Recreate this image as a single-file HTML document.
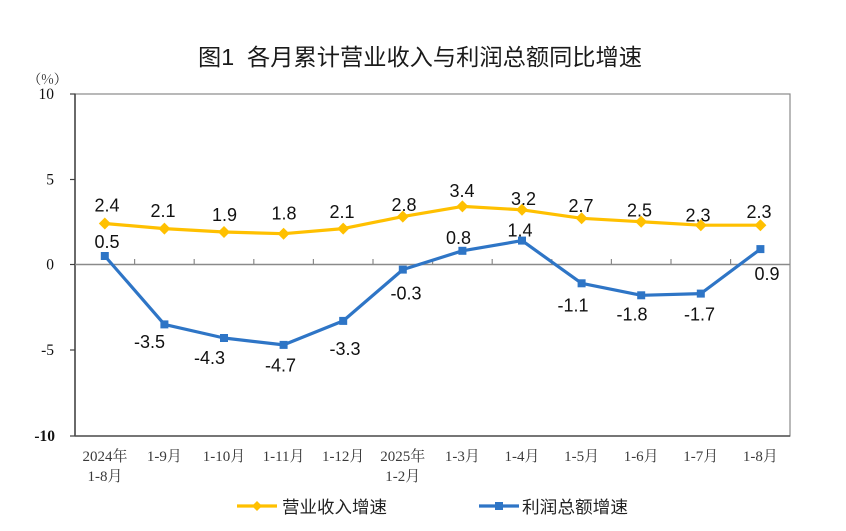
<!DOCTYPE html>
<html>
<head>
<meta charset="utf-8">
<style>
  html,body{margin:0;padding:0;background:#fff;}
  svg{display:block;}
</style>
</head>
<body>
<svg width="846" height="531" viewBox="0 0 846 531" xmlns="http://www.w3.org/2000/svg">
  <rect width="846" height="531" fill="#ffffff"/>
  <!-- Title -->
  <text x="198" y="65" font-family="'Liberation Sans','Noto Sans CJK SC',sans-serif" font-size="23" fill="#1a1a1a" textLength="444" lengthAdjust="spacingAndGlyphs">图1&#160;&#160;各月累计营业收入与利润总额同比增速</text>

  <!-- unit -->
  <text x="47.5" y="84" text-anchor="middle" font-family="'Noto Serif CJK SC','Liberation Serif',serif" font-size="13.5" fill="#222">（%）</text>

  <!-- Frame -->
  <rect x="75" y="94" width="715" height="342" fill="none" stroke="#8a8a8a" stroke-width="1.2"/>
  <line x1="75" y1="93.5" x2="75" y2="436" stroke="#404040" stroke-width="1.5"/>
  <line x1="75" y1="436" x2="790" y2="436" stroke="#505050" stroke-width="1.5"/>
  <!-- left ticks -->
  <g stroke="#404040" stroke-width="1.2">
    <line x1="70" y1="94" x2="75" y2="94"/>
    <line x1="70" y1="179.5" x2="75" y2="179.5"/>
    <line x1="70" y1="264.5" x2="75" y2="264.5"/>
    <line x1="70" y1="350" x2="75" y2="350"/>
    <line x1="70" y1="436" x2="75" y2="436"/>
  </g>
  <!-- zero line -->
  <line x1="75" y1="264.5" x2="790" y2="264.5" stroke="#8a8a8a" stroke-width="1.5"/>
  <g stroke="#8a8a8a" stroke-width="1.2">
    <line x1="134.6" y1="259" x2="134.6" y2="264.5"/>
    <line x1="194.2" y1="259" x2="194.2" y2="264.5"/>
    <line x1="253.8" y1="259" x2="253.8" y2="264.5"/>
    <line x1="313.4" y1="259" x2="313.4" y2="264.5"/>
    <line x1="373" y1="259" x2="373" y2="264.5"/>
    <line x1="432.6" y1="259" x2="432.6" y2="264.5"/>
    <line x1="492.2" y1="259" x2="492.2" y2="264.5"/>
    <line x1="551.8" y1="259" x2="551.8" y2="264.5"/>
    <line x1="611.4" y1="259" x2="611.4" y2="264.5"/>
    <line x1="671" y1="259" x2="671" y2="264.5"/>
    <line x1="730.6" y1="259" x2="730.6" y2="264.5"/>
  </g>

  <!-- Y labels -->
  <g font-family="'Liberation Serif',serif" font-size="15.5" fill="#111" text-anchor="end">
    <text x="54" y="99">10</text>
    <text x="54" y="184.5">5</text>
    <text x="54" y="269.5">0</text>
    <text x="54" y="355">-5</text>
    <text x="55" y="441" font-weight="bold">-10</text>
  </g>

  <!-- X labels -->
  <g font-family="'Liberation Serif','Noto Serif CJK SC',serif" font-size="15" fill="#3a3a3a" text-anchor="middle">
    <text x="105" y="461">2024年</text>
    <text x="105" y="481">1-8月</text>
    <text x="164.4" y="461">1-9月</text>
    <text x="224" y="461">1-10月</text>
    <text x="283.6" y="461">1-11月</text>
    <text x="343.2" y="461">1-12月</text>
    <text x="402.8" y="461">2025年</text>
    <text x="402.8" y="481">1-2月</text>
    <text x="462.4" y="461">1-3月</text>
    <text x="522" y="461">1-4月</text>
    <text x="581.6" y="461">1-5月</text>
    <text x="641.2" y="461">1-6月</text>
    <text x="700.8" y="461">1-7月</text>
    <text x="760.4" y="461">1-8月</text>
  </g>

  <!-- Revenue series -->
  <polyline fill="none" stroke="#FFC000" stroke-width="3.2" stroke-linejoin="round"
    points="104.8,223.5 164.4,228.6 224,232 283.6,233.7 343.2,228.6 402.8,216.6 462.4,206.4 522,209.8 581.6,218.3 641.2,221.75 700.8,225.2 760.4,225.2"/>
  <g fill="#FFC000">
    <polygon points="104.8,217.5 110.8,223.5 104.8,229.5 98.8,223.5"/>
    <polygon points="164.4,222.6 170.4,228.6 164.4,234.6 158.4,228.6"/>
    <polygon points="224,226 230,232 224,238 218,232"/>
    <polygon points="283.6,227.7 289.6,233.7 283.6,239.7 277.6,233.7"/>
    <polygon points="343.2,222.6 349.2,228.6 343.2,234.6 337.2,228.6"/>
    <polygon points="402.8,210.6 408.8,216.6 402.8,222.6 396.8,216.6"/>
    <polygon points="462.4,200.4 468.4,206.4 462.4,212.4 456.4,206.4"/>
    <polygon points="522,203.8 528,209.8 522,215.8 516,209.8"/>
    <polygon points="581.6,212.3 587.6,218.3 581.6,224.3 575.6,218.3"/>
    <polygon points="641.2,215.75 647.2,221.75 641.2,227.75 635.2,221.75"/>
    <polygon points="700.8,219.2 706.8,225.2 700.8,231.2 694.8,225.2"/>
    <polygon points="760.4,219.2 766.4,225.2 760.4,231.2 754.4,225.2"/>
  </g>

  <!-- Profit series -->
  <polyline fill="none" stroke="#2E75C6" stroke-width="3.2" stroke-linejoin="round"
    points="104.8,256 164.4,324.4 224,338 283.6,344.9 343.2,320.9 402.8,269.6 462.4,250.8 522,240.6 581.6,283.3 641.2,295.3 700.8,293.6 760.4,249.1"/>
  <g fill="#2E75C6">
    <rect x="100.8" y="252" width="8" height="8"/>
    <rect x="160.4" y="320.4" width="8" height="8"/>
    <rect x="220" y="334" width="8" height="8"/>
    <rect x="279.6" y="340.9" width="8" height="8"/>
    <rect x="339.2" y="316.9" width="8" height="8"/>
    <rect x="398.8" y="265.6" width="8" height="8"/>
    <rect x="458.4" y="246.8" width="8" height="8"/>
    <rect x="518" y="236.6" width="8" height="8"/>
    <rect x="577.6" y="279.3" width="8" height="8"/>
    <rect x="637.2" y="291.3" width="8" height="8"/>
    <rect x="696.8" y="289.6" width="8" height="8"/>
    <rect x="756.4" y="245.1" width="8" height="8"/>
  </g>

  <!-- Data labels -->
  <g font-family="'Liberation Sans',sans-serif" font-size="18" fill="#111" text-anchor="middle">
    <text x="107" y="211.5">2.4</text>
    <text x="163" y="217">2.1</text>
    <text x="224.5" y="221">1.9</text>
    <text x="284" y="219.5">1.8</text>
    <text x="342" y="218">2.1</text>
    <text x="404" y="211">2.8</text>
    <text x="462" y="197">3.4</text>
    <text x="523.5" y="205">3.2</text>
    <text x="581" y="212">2.7</text>
    <text x="639.5" y="216.5">2.5</text>
    <text x="698" y="221.5">2.3</text>
    <text x="759" y="218">2.3</text>

    <text x="107" y="248">0.5</text>
    <text x="149.5" y="348">-3.5</text>
    <text x="209.5" y="364">-4.3</text>
    <text x="280.5" y="371.5">-4.7</text>
    <text x="345" y="355">-3.3</text>
    <text x="406" y="299.5">-0.3</text>
    <text x="458.5" y="244">0.8</text>
    <text x="520" y="236.5">1.4</text>
    <text x="573" y="311.5">-1.1</text>
    <text x="632" y="320.5">-1.8</text>
    <text x="699.5" y="320.5">-1.7</text>
    <text x="767" y="280">0.9</text>
  </g>

  <!-- Legend -->
  <line x1="237" y1="506" x2="277" y2="506" stroke="#FFC000" stroke-width="3.2"/>
  <polygon points="257,501 262,506 257,511 252,506" fill="#FFC000"/>
  <text x="282" y="513" font-family="'Liberation Sans','Noto Sans CJK SC',sans-serif" font-size="17" fill="#222" textLength="105" lengthAdjust="spacingAndGlyphs">营业收入增速</text>

  <line x1="479" y1="506" x2="519" y2="506" stroke="#2E75C6" stroke-width="3.2"/>
  <rect x="495" y="502" width="8" height="8" fill="#2E75C6"/>
  <text x="522" y="513" font-family="'Liberation Sans','Noto Sans CJK SC',sans-serif" font-size="17" fill="#222" textLength="106" lengthAdjust="spacingAndGlyphs">利润总额增速</text>
</svg>
</body>
</html>
